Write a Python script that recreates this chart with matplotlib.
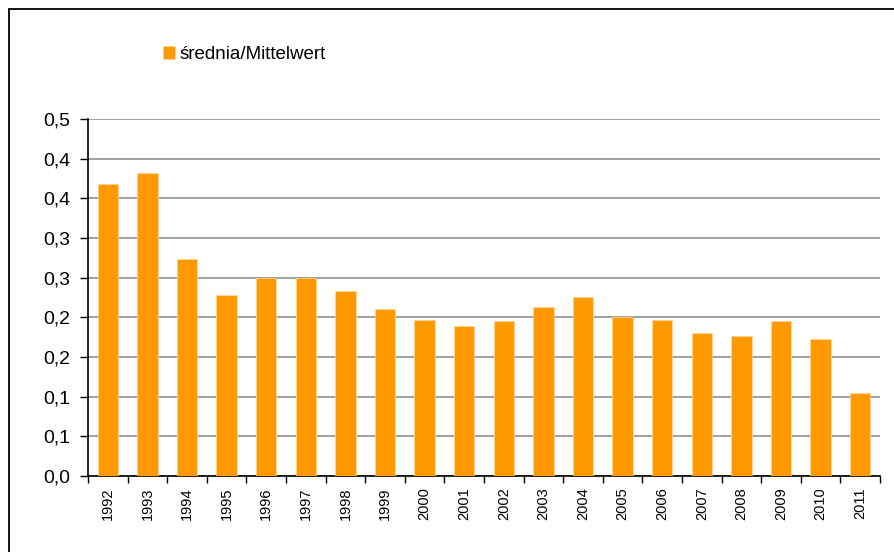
import matplotlib
matplotlib.use("Agg")
import matplotlib.pyplot as plt
from matplotlib.patches import Rectangle
import numpy as np

years = ["1992", "1993", "1994", "1995", "1996", "1997", "1998", "1999", "2000", "2001",
         "2002", "2003", "2004", "2005", "2006", "2007", "2008", "2009", "2010", "2011"]
values = [0.368, 0.382, 0.274, 0.228, 0.250, 0.250, 0.233, 0.210, 0.197, 0.189,
          0.195, 0.213, 0.226, 0.200, 0.197, 0.180, 0.177, 0.195, 0.173, 0.104]
y_ticks = [0.0, 0.05, 0.10, 0.15, 0.20, 0.25, 0.30, 0.35, 0.40, 0.45]
y_tick_labels = ["0,0", "0,1", "0,1", "0,2", "0,2", "0,3", "0,3", "0,4", "0,4", "0,5"]
series_name = "średnia/Mittelwert"

plt.rcParams['font.family'] = ['Liberation Sans', 'DejaVu Sans']

fig = plt.figure(figsize=(8.94, 5.52), dpi=100)
W, H = 894, 552
ax = fig.add_axes([88 / W, 1 - 476 / H, (880 - 88) / W, (476 - 119) / H])

x = np.arange(len(years))
ax.bar(x, values, width=0.52, color="#FF9900", edgecolor="#FFD9A0", linewidth=0.5,
       label=series_name, zorder=3)

ax.set_xlim(-0.5, len(years) - 0.5)
ax.set_ylim(0, 0.45)
ax.set_yticks(y_ticks)
ax.set_yticklabels(y_tick_labels, fontsize=14)
ax.yaxis.grid(True, color="#999999", linewidth=1.3, zorder=0)
ax.set_axisbelow(True)

ax.set_xticks(x)
ax.set_xticklabels(years, rotation=90, fontsize=10.5)
ax.tick_params(axis="x", which="major", length=0, pad=8)
ax.set_xticks(np.arange(-0.5, len(years), 1.0), minor=True)
ax.tick_params(axis="x", which="minor", length=5, width=1, direction="out")
ax.tick_params(axis="y", length=6, width=1, direction="out", pad=7)

for s in ["top", "right"]:
    ax.spines[s].set_visible(False)
ax.spines["left"].set_linewidth(1.2)
ax.spines["bottom"].set_linewidth(1.2)

leg = fig.legend(loc="upper left", bbox_to_anchor=(146 / W, 1 - 29 / H), frameon=False,
                 fontsize=13.5, handlelength=0.65, handleheight=0.65, handletextpad=0.25)

fig.patches.append(Rectangle((9 / W, -0.1), 1.2, 1 - 9 / H + 0.1, transform=fig.transFigure,
                             fill=False, edgecolor="black", linewidth=1.3))

fig.savefig("out.png", dpi=100)
